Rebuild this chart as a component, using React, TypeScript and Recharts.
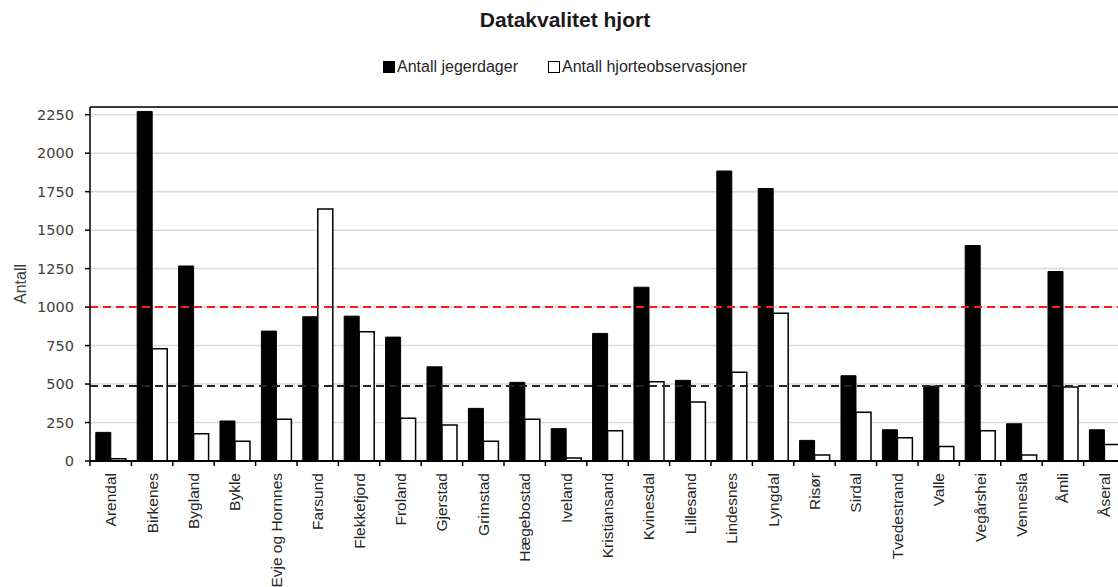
import { BarChart, Bar, XAxis, YAxis, CartesianGrid, ReferenceLine, Legend } from "recharts";

// kommuner langs x-aksen
const kommuner = [
  "Arendal", "Birkenes", "Bygland", "Bykle", "Evje og Hornnes", "Farsund", "Flekkefjord",
  "Froland", "Gjerstad", "Grimstad", "Hægebostad", "Iveland", "Kristiansand", "Kvinesdal",
  "Lillesand", "Lindesnes", "Lyngdal", "Risør", "Sirdal", "Tvedestrand", "Valle",
  "Vegårshei", "Vennesla", "Åmli", "Åseral",
];

const jegerdager = [
  186, 2271, 1267, 260, 844, 937, 941, 805, 612, 342, 511, 210, 829, 1129,
  524, 1884, 1770, 134, 554, 203, 487, 1400, 242, 1231, 203,
];

const observasjoner = [
  15, 729, 177, 128, 271, 1637, 839, 277, 234, 128, 271, 19, 197, 515,
  383, 576, 960, 39, 316, 151, 95, 197, 39, 480, 108,
];

const yTicks = [0, 250, 500, 750, 1000, 1250, 1500, 1750, 2000, 2250];
const yMax = 2300;
const grenseRod = 1000;
const grenseSvart = 487;

const data = kommuner.map((navn, i) => ({
  navn,
  jegerdager: jegerdager[i],
  observasjoner: observasjoner[i],
}));

const LABEL_FONT = "'Liberation Sans', Arial, sans-serif";

function XTick(props: any) {
  const { x, y, payload, index, width, visibleTicksCount } = props;
  const band = typeof width === "number" && visibleTicksCount ? width / visibleTicksCount : (payload?.offset ?? 20.7) * 2;
  const axisY = y - 8;
  const ty = axisY + 12;
  return (
    <g>
      <line x1={x - band / 2} x2={x - band / 2} y1={axisY} y2={axisY + 5} stroke="#000" strokeWidth={1.5} />
      {index === visibleTicksCount - 1 && (
        <line x1={x + band / 2} x2={x + band / 2} y1={axisY} y2={axisY + 5} stroke="#000" strokeWidth={1.5} />
      )}
      <text
        x={x}
        y={ty}
        transform={`rotate(-90 ${x} ${ty})`}
        textAnchor="end"
        dy="0.36em"
        fill="#262626"
        fontFamily={LABEL_FONT}
        fontSize={15.5}
      >
        {payload.value}
      </text>
    </g>
  );
}

function LegendBox() {
  return (
    <div
      style={{
        display: "flex",
        alignItems: "center",
        marginLeft: 383,
        fontFamily: LABEL_FONT,
        fontSize: 16,
        color: "#262626",
        whiteSpace: "nowrap",
      }}
    >
      <span style={{ display: "inline-block", width: 12, height: 12, background: "#000" }} />
      <span style={{ marginLeft: 2 }}>Antall jegerdager</span>
      <span
        style={{
          display: "inline-block",
          width: 10,
          height: 10,
          background: "#fff",
          border: "1.5px solid #000",
          marginLeft: 30,
        }}
      />
      <span style={{ marginLeft: 2 }}>Antall hjorteobservasjoner</span>
    </div>
  );
}

export default function App() {
  return (
    <div
      style={{
        position: "fixed",
        left: 0,
        top: 0,
        width: 1118,
        height: 587,
        overflow: "hidden",
        background: "#fff",
      }}
    >
      <div style={{ position: "relative", width: 1130, height: 587 }}>
        <div
          style={{
            position: "absolute",
            top: 8,
            left: 0,
            width: 1130,
            textAlign: "center",
            fontFamily: LABEL_FONT,
            fontWeight: "bold",
            fontSize: 21,
            color: "#1a1a1a",
          }}
        >
          Datakvalitet hjort
        </div>
        <BarChart
          width={1125}
          height={587}
          data={data}
          margin={{ top: 107, right: 0, bottom: 6, left: 0 }}
          barCategoryGap="14%"
          barGap={0}
        >
          <CartesianGrid vertical={false} stroke="#d9d9d9" strokeWidth={1.5} />
          <XAxis
            dataKey="navn"
            interval={0}
            height={120}
            tickSize={5}
            tickMargin={3}
            tickLine={false}
            axisLine={{ stroke: "#000", strokeWidth: 2 }}
            tick={XTick}
          />
          <YAxis
            domain={[0, yMax]}
            ticks={yTicks}
            width={90}
            tickSize={5}
            tickMargin={11}
            axisLine={{ stroke: "#000", strokeWidth: 1.5 }}
            tickLine={{ stroke: "#000", strokeWidth: 1.5 }}
            tick={{ fontFamily: "'DejaVu Sans', sans-serif", fontSize: 14.5, fill: "#404040" }}
            label={{
              content: (p: any) => {
                const vb = p.viewBox;
                const cx = vb.x + 20;
                const cy = vb.y + vb.height / 2;
                return (
                  <text
                    x={cx}
                    y={cy}
                    transform={`rotate(-90 ${cx} ${cy})`}
                    textAnchor="middle"
                    dy="0.36em"
                    fill="#404040"
                    fontFamily={LABEL_FONT}
                    fontSize={16}
                  >
                    Antall
                  </text>
                );
              },
            }}
          />
          <Legend verticalAlign="middle" wrapperStyle={{ top: 58, left: 0, width: 1118 }} content={LegendBox} />
          <Bar dataKey="jegerdager" name="Antall jegerdager" fill="#000" stroke="#000" strokeWidth={1} isAnimationActive={false} />
          <Bar dataKey="observasjoner" name="Antall hjorteobservasjoner" fill="#fff" stroke="#000" strokeWidth={1.5} isAnimationActive={false} />
          <ReferenceLine y={grenseRod} stroke="#ff1a1a" strokeWidth={2} strokeDasharray="8 5" />
          <ReferenceLine y={grenseSvart} stroke="#262626" strokeWidth={2} strokeDasharray="8 5" />
          <ReferenceLine y={yMax} stroke="#000" strokeWidth={1.5} />
        </BarChart>
      </div>
    </div>
  );
}
